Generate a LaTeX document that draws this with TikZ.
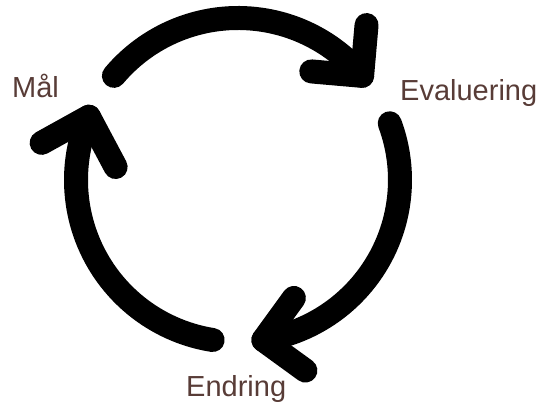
\documentclass[tikz,border=0pt]{standalone}
\usepackage{fontspec}
\setmainfont{Liberation Sans}
\definecolor{labelcol}{RGB}{88,60,55}
\begin{document}
\begin{tikzpicture}[x=1pt,y=1pt,
  cyc/.style={line width=24pt, line cap=round, line join=round, black},
  lbl/.style={font=\fontsize{29}{34}\selectfont, text=labelcol, inner sep=0pt, anchor=base west}]
\useasboundingbox (0,0) rectangle (539,403);
\coordinate (c) at (238,223);
% arc endpoints
\coordinate (s1) at ([shift={(140:162)}]c);
\coordinate (t1) at ([shift={(40:162)}]c);
\coordinate (s2) at ([shift={(20.5:162)}]c);
\coordinate (t2) at ([shift={(-81:162)}]c);
\coordinate (s3) at ([shift={(261:162)}]c);
\coordinate (t3) at ([shift={(157:162)}]c);
% arcs
\draw[cyc] (s1) arc[start angle=140, end angle=40, radius=162];
\draw[cyc] (s2) arc[start angle=20.5, end angle=-81, radius=162];
\draw[cyc] (s3) arc[start angle=261, end angle=157, radius=162];
% arrowheads
\draw[cyc] ([shift={(85:51)}]t1) -- (t1) -- ([shift={(175:51)}]t1);
\draw[cyc] ([shift={(54:52)}]t2) -- (t2) -- ([shift={(-36:52)}]t2);
\draw[cyc] ([shift={(209:54)}]t3) -- (t3) -- ([shift={(298:57)}]t3);
% labels
\node[lbl] (mal) at (12,305) {Mål};
\node[lbl] (eval) at (400,302) {Evaluering};
\node[lbl] (endr) at (186,6) {Endring};
\end{tikzpicture}
\end{document}
